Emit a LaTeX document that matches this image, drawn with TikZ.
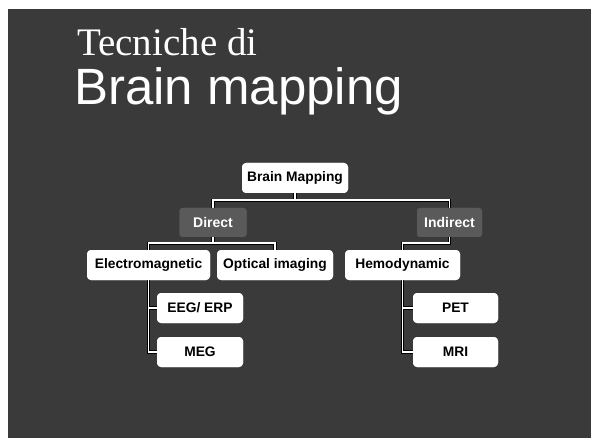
\documentclass[tikz,border=0pt]{standalone}
\usepackage{fontspec}
\setmainfont{Liberation Sans}
\newfontfamily\titleserif{Liberation Serif}
\usetikzlibrary{calc}

\definecolor{slatebg}{HTML}{3A3A3A}
\definecolor{haze}{HTML}{5A5A5A}

\tikzset{
  leaf/.style={fill=white, draw=none, rounded corners=4pt, inner sep=0pt,
    minimum height=30pt, font=\bfseries\fontsize{13.8}{15}\selectfont, text=black},
  branch/.style={fill=haze, draw=none, rounded corners=3pt, inner sep=0pt,
    minimum height=29pt, font=\bfseries\fontsize{14}{15}\selectfont, text=white},
  edgeblack/.style={draw=black, line width=3.2pt},
  edgewhite/.style={draw=white, line width=1.6pt},
}

% all the tree connectors, drawn once per style
\newcommand\treepaths[1]{%
  \draw[#1] (bm.south) -- (j1);
  \draw[#1] (direct.north) |- (j1) -| (indirect.north);
  \draw[#1] (direct.south) -- (j2);
  \draw[#1] (em.north) |- (j2) -| (oi.north);
  \draw[#1] (indirect.south) |- (j3) -| (hd.north);
  \draw[#1] (em.south) |- (eeg.west);
  \draw[#1] (em.south) |- (meg.west);
  \draw[#1] (hd.south) |- (pet.west);
  \draw[#1] (hd.south) |- (mri.west);
}

% the boxes of the tree
\newcommand\treeboxes{%
  \node[leaf, minimum width=106pt] (bm) at (295,178) {Brain Mapping};
  \node[branch, minimum width=67pt] (direct) at (213,222.5) {Direct};
  \node[branch, minimum width=65pt] (indirect) at (449.5,222.5) {Indirect};
  \node[leaf, minimum width=123pt] (em) at (148.5,265) {Electromagnetic};
  \node[leaf, minimum width=116pt] (oi) at (275,265) {Optical imaging};
  \node[leaf, minimum width=115pt] (hd) at (402.5,265) {Hemodynamic};
  \node[leaf, minimum width=86pt] (eeg) at (200,308) {EEG/ ERP};
  \node[leaf, minimum width=86pt] (meg) at (200,352) {MEG};
  \node[leaf, minimum width=85pt] (pet) at (455.5,308) {PET};
  \node[leaf, minimum width=85pt] (mri) at (455.5,352) {MRI};
}

\begin{document}
\begin{tikzpicture}[x=1pt, y=-1pt]
  \useasboundingbox (0,0) rectangle (591,438);
  \fill[white] (0,0) rectangle (591,438);
  \fill[slatebg] (8,9) rectangle (591,438);

  % title
  \node[anchor=base west, inner sep=0pt, text=white,
        font=\titleserif\fontsize{39}{39}\selectfont] (t1) at (77,56) {Tecniche di};
  \node[anchor=base west, inner sep=0pt, text=white,
        font=\fontsize{51}{51}\selectfont] (t2) at (74,105) {Brain mapping};

  \treeboxes

  % junction points of the tree
  \coordinate (j1) at ($(bm.south)+(0,7)$);
  \coordinate (j2) at ($(direct.south)+(0,6)$);
  \coordinate (j3) at ($(indirect.south)+(0,6)$);

  \treepaths{edgeblack}
  \treepaths{edgewhite}

  % boxes again, above the connector ends
  \treeboxes
\end{tikzpicture}
\end{document}
